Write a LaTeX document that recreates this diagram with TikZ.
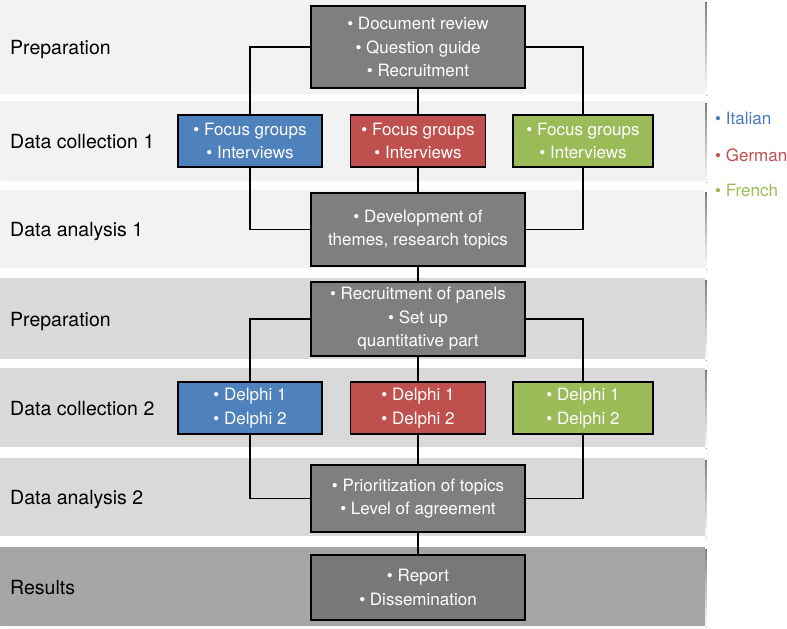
\documentclass[tikz,border=0pt]{standalone}
\usepackage{fontspec}
\setmainfont{TeX Gyre Heros}
\definecolor{bandA}{HTML}{F2F2F2}
\definecolor{bandB}{HTML}{D9D9D9}
\definecolor{bandC}{HTML}{A6A6A6}
\definecolor{shade}{HTML}{9A9A9A}
\definecolor{boxgray}{HTML}{7F7F7F}
\definecolor{boxdark}{HTML}{787878}
\definecolor{itblue}{HTML}{4F81BD}
\definecolor{dered}{HTML}{C0504D}
\definecolor{frgreen}{HTML}{9BBB59}
\definecolor{legblue}{HTML}{4A7EBB}
\begin{document}
\begin{tikzpicture}[x=1pt,y=-1pt,
  rowlabel/.style={anchor=base west,inner sep=0pt,font=\fontsize{19.5}{22}\selectfont,text=black},
  stagebox/.style={draw=black,line width=1.4pt,inner sep=0pt,align=center,text=white,
     font=\fontsize{17}{23.5}\selectfont},
  graybox/.style={stagebox,fill=boxgray,minimum width=214pt},
  langbox/.style={stagebox,minimum height=52pt},
  conn/.style={draw=black,line width=1.4pt},
  legend/.style={anchor=west,inner sep=0pt,font=\fontsize{17}{20}\selectfont}
]
\useasboundingbox (0,0) rectangle (787,629);
% bands
\foreach \ya/\yb/\c in {0/94/bandA,101/181/bandA,190/268/bandA,278/359/bandB,368/447/bandB,458/536/bandB,547/626/bandC}{
  \fill[shade] (2,\ya+2) rectangle (706.5,\yb+1.8);
  \fill[\c] (0,\ya) rectangle (705,\yb);
}
% row labels (baselines)
\node[rowlabel] (l1) at (10,54) {Preparation};
\node[rowlabel] (l2) at (10,148) {Data collection 1};
\node[rowlabel] (l3) at (10,236) {Data analysis 1};
\node[rowlabel] (l4) at (10,326) {Preparation};
\node[rowlabel] (l5) at (10,415) {Data collection 2};
\node[rowlabel] (l6) at (10,504) {Data analysis 2};
\node[rowlabel] (l7) at (10,594) {Results};
% boxes
\node[graybox,minimum height=82pt] (prep1) at (418,47)
  {\textbullet\ Document review\\\textbullet\ Question guide\\\textbullet\ Recruitment};
\node[langbox,fill=itblue,minimum width=144pt] (it1) at (250,141)
  {\textbullet\ Focus groups\\\textbullet\ Interviews};
\node[langbox,fill=dered,minimum width=135pt] (de1) at (418,141)
  {\textbullet\ Focus groups\\\textbullet\ Interviews};
\node[langbox,fill=frgreen,minimum width=140pt] (fr1) at (583,141)
  {\textbullet\ Focus groups\\\textbullet\ Interviews};
\node[graybox,minimum height=73pt] (ana1) at (418,229.5)
  {\textbullet\ Development of\\themes, research topics};
\node[graybox,minimum height=74pt] (prep2) at (418,319)
  {\textbullet\ Recruitment of panels\\\textbullet\ Set up\\quantitative part};
\node[langbox,fill=itblue,minimum width=144pt] (it2) at (250,408)
  {\textbullet\ Delphi 1\\\textbullet\ Delphi 2};
\node[langbox,fill=dered,minimum width=135pt] (de2) at (418,408)
  {\textbullet\ Delphi 1\\\textbullet\ Delphi 2};
\node[langbox,fill=frgreen,minimum width=140pt] (fr2) at (583,408)
  {\textbullet\ Delphi 1\\\textbullet\ Delphi 2};
\node[graybox,minimum height=67pt] (ana2) at (418,498.5)
  {\textbullet\ Prioritization of topics\\\textbullet\ Level of agreement};
\node[graybox,fill=boxdark,minimum height=65pt] (res) at (418,587.5)
  {\textbullet\ Report\\\textbullet\ Dissemination};
% connectors
\draw[conn] (prep1.west) -| (it1.north);
\draw[conn] (prep1.east) -| (fr1.north);
\draw[conn] (prep1.south) -- (de1.north);
\draw[conn] (it1.south) |- (ana1.west);
\draw[conn] (fr1.south) |- (ana1.east);
\draw[conn] (de1.south) -- (ana1.north);
\draw[conn] (ana1.south) -- (prep2.north);
\draw[conn] (prep2.west) -| (it2.north);
\draw[conn] (prep2.east) -| (fr2.north);
\draw[conn] (prep2.south) -- (de2.north);
\draw[conn] (it2.south) |- (ana2.west);
\draw[conn] (fr2.south) |- (ana2.east);
\draw[conn] (de2.south) -- (ana2.north);
\draw[conn] (ana2.south) -- (res.north);
% legend
\node[legend,text=legblue] (lit) at (715,118) {\textbullet\ Italian};
\node[legend,text=dered] (lde) at (715,155) {\textbullet\ German};
\node[legend,text=frgreen] (lfr) at (715,190) {\textbullet\ French};
\end{tikzpicture}
\end{document}
